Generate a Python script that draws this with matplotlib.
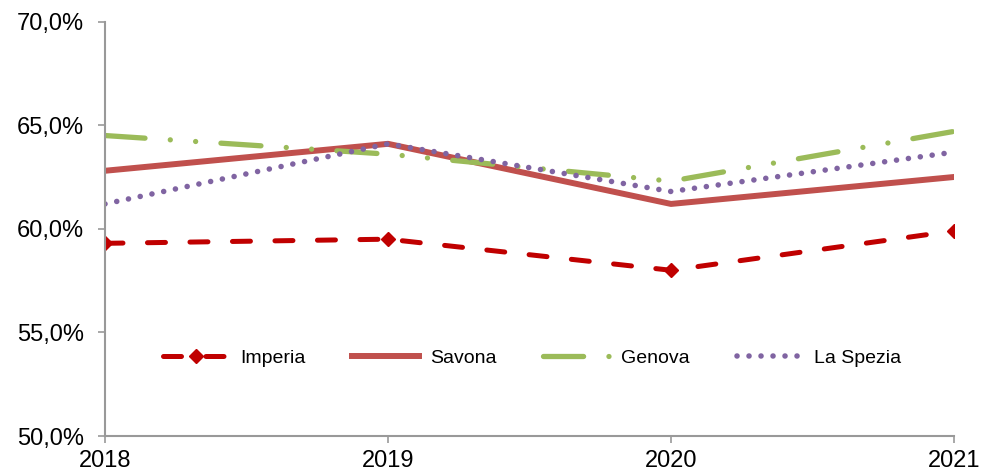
import matplotlib.pyplot as plt
from matplotlib.ticker import FuncFormatter

plt.rcParams['font.family'] = ['Liberation Sans', 'DejaVu Sans']

years = ['2018', '2019', '2020', '2021']
imperia = [59.3, 59.5, 58.0, 59.9]
savona = [62.8, 64.1, 61.2, 62.5]
genova = [64.5, 63.6, 62.3, 64.7]
la_spezia = [61.2, 64.1, 61.8, 63.7]

fig = plt.figure(figsize=(9.81, 4.73), dpi=100)
ax = fig.add_axes([0.107, 0.078, 0.8655, 0.8765])
x = list(range(len(years)))

ax.plot(x, imperia, color='#C00000', lw=3.6, dashes=(3.6, 4.9), marker='D',
        ms=7, label='Imperia', dash_capstyle='round')
ax.plot(x, savona, color='#C0504D', lw=4.3, label='Savona')
ax.plot(x, genova, color='#9BBB59', lw=3.8, dashes=(7.6, 4.8, 0.01, 4.8, 0.01, 4.8),
        dash_capstyle='round', label='Genova')
ax.plot(x, la_spezia, color='#8064A2', lw=4.0, dashes=(0.01, 2.15),
        dash_capstyle='round', label='La Spezia')

ax.set_xlim(0, 3)
ax.set_ylim(50, 70)
ax.set_xticks(x)
ax.set_xticklabels(years)
ax.set_yticks([50, 55, 60, 65, 70])
ax.yaxis.set_major_formatter(FuncFormatter(lambda v, p: f'{v:.1f}%'.replace('.', ',')))
ax.tick_params(labelsize=17, color='#999999', length=5, width=1.2)
ax.tick_params(axis='x', pad=5)
ax.tick_params(axis='y', pad=10)

for s in ['top', 'right']:
    ax.spines[s].set_visible(False)
for s in ['left', 'bottom']:
    ax.spines[s].set_color('#999999')
    ax.spines[s].set_linewidth(1.5)

ax.legend(loc='center', bbox_to_anchor=(0.503, 0.188), ncol=4, frameon=False,
          fontsize=14, handlelength=3.4, columnspacing=2.4, handletextpad=0.6)

fig.savefig('out.png', dpi=100)
